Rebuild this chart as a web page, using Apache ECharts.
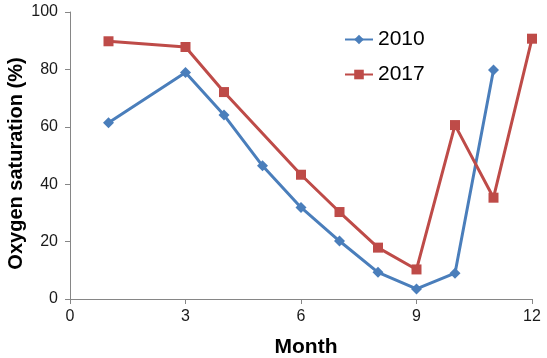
<!DOCTYPE html>
<html>
<head>
<meta charset="utf-8">
<script src="https://cdn.jsdelivr.net/npm/echarts@6/dist/echarts.min.js"></script>
<style>html,body{margin:0;padding:0;background:#fff}#c{width:547px;height:358px}</style>
</head>
<body>
<div id="c"></div>
<script>
var months2010 = [1, 3, 4, 5, 6, 7, 8, 9, 10, 11];
var values2010 = [61.4, 78.9, 64.1, 46.4, 31.9, 20.2, 9.3, 3.5, 9.0, 79.8];
var months2017 = [1, 3, 4, 6, 7, 8, 9, 10, 11, 12];
var values2017 = [89.8, 87.8, 72.1, 43.3, 30.3, 17.9, 10.3, 60.6, 35.3, 90.7];
var xTicks = [0, 3, 6, 9, 12];
var yTicks = [0, 20, 40, 60, 80, 100];

function pairs(xs, ys) { return xs.map(function (x, i) { return [x, ys[i]]; }); }

var font = '"Liberation Sans", Arial, sans-serif';
var chart = echarts.init(document.getElementById('c'));
chart.setOption({
  animation: false,
  textStyle: { fontFamily: font },
  grid: { left: 70, right: 15, top: 12, bottom: 59, containLabel: false, outerBoundsMode: 'none' },
  legend: {
    orient: 'vertical', left: 339, top: 24,
    itemWidth: 28, itemHeight: 12, itemGap: 14,
    textStyle: { fontSize: 21, color: '#000', fontFamily: font },
    data: ['2010', '2017']
  },
  xAxis: {
    type: 'value', min: xTicks[0], max: xTicks[xTicks.length - 1], interval: 3,
    name: 'Month', nameLocation: 'middle', nameGap: 38, nameMoveOverlap: false,
    nameTextStyle: { fontSize: 21, fontWeight: 'bold', color: '#000', fontFamily: font, padding: [0, 0, 0, 10] },
    splitLine: { show: false },
    axisLine: { lineStyle: { color: '#868686', width: 1 } },
    axisTick: { show: true, length: 5, lineStyle: { color: '#868686' } },
    axisLabel: { fontSize: 16, color: '#1a1a1a', margin: 10, fontFamily: font }
  },
  yAxis: {
    type: 'value', min: yTicks[0], max: yTicks[yTicks.length - 1], interval: 20,
    name: 'Oxygen saturation (%)', nameLocation: 'middle', nameGap: 44, nameMoveOverlap: false,
    nameTextStyle: { fontSize: 20, fontWeight: 'bold', color: '#000', fontFamily: font, padding: [0, 16, 0, 0] },
    splitLine: { show: false },
    axisLine: { show: true, lineStyle: { color: '#868686', width: 1 } },
    axisTick: { show: true, length: 5, lineStyle: { color: '#868686' } },
    axisLabel: { fontSize: 16, color: '#1a1a1a', margin: 12, fontFamily: font }
  },
  series: [
    {
      name: '2010', type: 'line', data: pairs(months2010, values2010),
      symbol: 'diamond', symbolSize: 11,
      lineStyle: { color: '#4a7ebb', width: 3 },
      itemStyle: { color: '#4a7ebb' }
    },
    {
      name: '2017', type: 'line', data: pairs(months2017, values2017),
      symbol: 'rect', symbolSize: 10,
      lineStyle: { color: '#be4b48', width: 3 },
      itemStyle: { color: '#be4b48' }
    }
  ]
});
</script>
</body>
</html>
